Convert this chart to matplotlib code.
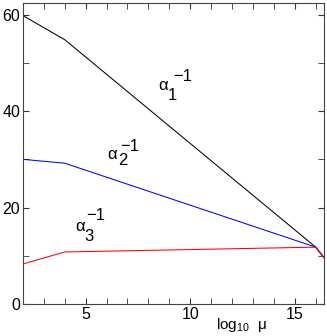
import matplotlib.pyplot as plt
from matplotlib.ticker import MultipleLocator

plt.rcParams['font.family'] = ['Liberation Sans', 'DejaVu Sans']
plt.rcParams['mathtext.fontset'] = 'custom'
plt.rcParams['mathtext.rm'] = 'Liberation Sans'
plt.rcParams['mathtext.it'] = 'Liberation Sans'

# scale points (log10 mu) and inverse couplings
log_mu = [2.0, 4.0, 16.0, 16.4]
alpha1_inv = [59.8, 54.8, 11.8, 9.6]
alpha2_inv = [30.0, 29.2, 11.8, 9.6]
alpha3_inv = [8.3, 10.8, 11.8, 9.6]

fig = plt.figure(figsize=(3.27, 3.36), dpi=100)
ax = fig.add_axes([0.070, 0.095, 0.921, 0.896])

ax.plot(log_mu, alpha1_inv, color='black', lw=0.75)
ax.plot(log_mu, alpha2_inv, color='blue', lw=0.75)
ax.plot(log_mu, alpha3_inv, color='red', lw=0.75)

ax.set_xlim(2, 16.4)
ax.set_ylim(0, 62.4)
ax.xaxis.set_major_locator(MultipleLocator(5))
ax.xaxis.set_minor_locator(MultipleLocator(1))
ax.yaxis.set_major_locator(MultipleLocator(20))
ax.yaxis.set_minor_locator(MultipleLocator(10))
ax.tick_params(which='both', direction='in', top=True, right=True,
               labelsize=11.5, color='#333333', pad=2)
ax.tick_params(which='major', length=4)
ax.tick_params(which='minor', length=4)
for s in ax.spines.values():
    s.set_color('#444444')
    s.set_linewidth(0.8)

ax.set_xlabel(r'log$_{\rm 10}$  μ', fontsize=11)
ax.xaxis.set_label_coords(0.726, -0.038)

# coupling labels
fs = 12
for (xa, ya), (xs, ys), (xp, yp), sub in [
        ((8.70, 45.4), (9.13, 43.2), (9.66, 47.1), '1'),
        ((6.26, 30.9), (6.78, 29.7), (7.12, 32.6), '2'),
        ((4.73, 16.0), (5.16, 14.1), (5.49, 18.3), '3')]:
    ax.text(xa, ya, 'α', fontsize=fs, ha='center', va='center')
    ax.text(xs, ys, sub, fontsize=fs, ha='center', va='center')
    ax.text(xp, yp, '−1', fontsize=fs, ha='center', va='center')

fig.savefig('out.png', dpi=100)
